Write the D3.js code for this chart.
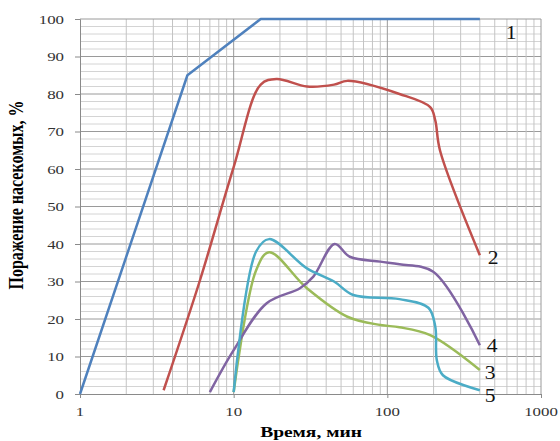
<!DOCTYPE html>
<html lang="ru">
<head>
<meta charset="utf-8">
<title>Поражение насекомых</title>
<script src="https://cdn.jsdelivr.net/npm/d3@7"></script>
<style>
  body { margin: 0; background: #fff; }
  text { font-family: "Liberation Serif", "Times New Roman", serif; }
</style>
</head>
<body>
<script>
// series: time (min) and damage (%)
var t1 = [1, 5, 15, 400]
var v1 = [0, 85, 100, 100]
var t2 = [3.5, 6, 10, 15, 19, 30, 45, 55, 120, 190, 205, 220, 400]
var v2 = [1, 30, 60.5, 82.5, 84, 82, 82.5, 83.5, 80, 76.5, 73, 65, 37]
var t3 = [10, 14, 17, 30, 55, 90, 120, 190, 400]
var v3 = [0.5, 33, 37.8, 28.2, 20.6, 18.4, 17.8, 15.7, 6.4]
var t4 = [7, 10, 16.4, 27, 33, 45.4, 57, 90, 120, 199, 400]
var v4 = [0.5, 11.7, 24.2, 28.2, 31.3, 40, 36.6, 35.3, 34.6, 32.6, 13]
var t5 = [10, 14, 17, 30, 45, 60, 120, 185, 205, 210, 230, 400]
var v5 = [0.5, 38, 41.3, 33.5, 30, 26.4, 25.3, 23, 18, 9, 5, 1]

var seriesNames = ["1", "2", "3", "4", "5"]
var xTicks = [1, 10, 100, 1000]
var yTicks = [0, 10, 20, 30, 40, 50, 60, 70, 80, 90, 100]

var w = 560
var h = 441
var margin = {left: 80, right: 19, top: 19, bottom: 47}
var stretch = 1.35   // text in the picture is wider than tall

var svg = d3.select("body").append("svg")
  .attr("width", w)
  .attr("height", h)

var x = d3.scaleLog().domain([1, 1000]).range([margin.left, w - margin.right])
var y = d3.scaleLinear().domain([0, 100]).range([h - margin.bottom, margin.top])

// grid: horizontal every 2 %, vertical at every log minor tick
var grid = svg.append("g")
d3.range(2, 100, 2).forEach(function (v) {
  grid.append("line")
    .attr("x1", x(1)).attr("x2", x(1000))
    .attr("y1", y(v)).attr("y2", y(v))
    .attr("stroke", v % 10 == 0 ? "#9a9a9a" : "#d4d4d4")
    .attr("stroke-width", 1)
})
x.ticks().forEach(function (t) {
  if (t <= 1) return
  var major = xTicks.indexOf(t) >= 0
  grid.append("line")
    .attr("x1", x(t)).attr("x2", x(t))
    .attr("y1", y(0)).attr("y2", y(100))
    .attr("stroke", major ? "#9a9a9a" : "#c4c4c4")
    .attr("stroke-width", 1)
})
grid.append("line")
  .attr("x1", x(1)).attr("x2", x(1000))
  .attr("y1", y(100)).attr("y2", y(100))
  .attr("stroke", "#9a9a9a")

// axes
svg.append("g")
  .attr("transform", "translate(" + x(1) + ",0)")
  .call(d3.axisLeft(y).tickValues(yTicks).tickSize(5).tickFormat(""))
svg.append("g")
  .attr("transform", "translate(0," + y(0) + ")")
  .call(d3.axisBottom(x).tickValues(xTicks).tickSize(4).tickFormat(""))
svg.selectAll(".domain, .tick line").attr("stroke", "#8a8a8a")

yTicks.forEach(function (v) {
  svg.append("text")
    .attr("transform", "translate(64," + (y(v) + 4.5) + ") scale(" + stretch + ",1)")
    .attr("text-anchor", "end")
    .attr("font-size", 12.5)
    .attr("fill", "#333")
    .text(v)
})
xTicks.forEach(function (t) {
  svg.append("text")
    .attr("transform", "translate(" + x(t) + ",416) scale(" + stretch + ",1)")
    .attr("text-anchor", "middle")
    .attr("font-size", 12.5)
    .attr("fill", "#333")
    .text(t)
})

svg.append("text")
  .attr("transform", "translate(311,437) scale(1.3,1)")
  .attr("text-anchor", "middle")
  .attr("font-size", 15)
  .attr("font-weight", "bold")
  .text("Время, мин")
svg.append("text")
  .attr("transform", "translate(23,195) scale(1.3,1) rotate(-90)")
  .attr("text-anchor", "middle")
  .attr("font-size", 16)
  .attr("font-weight", "bold")
  .text("Поражение насекомых, %")

// lines
var smooth = d3.curveCatmullRom.alpha(0.5)
var series = [
  {t: t1, v: v1, color: "#4f81bd", curve: d3.curveLinear, dx: 26, dy: 20},
  {t: t2, v: v2, color: "#c0504d", curve: smooth, dx: 8, dy: 9},
  {t: t3, v: v3, color: "#9bbb59", curve: smooth, dx: 5, dy: 9},
  {t: t4, v: v4, color: "#8064a2", curve: smooth, dx: 7, dy: 7},
  {t: t5, v: v5, color: "#4bacc6", curve: smooth, dx: 5, dy: 12}
]

series.forEach(function (s, i) {
  var pts = s.t.map(function (t, j) { return [t, s.v[j]] })
  var line = d3.line()
    .x(function (d) { return x(d[0]) })
    .y(function (d) { return y(d[1]) })
    .curve(s.curve)
  svg.append("path")
    .attr("d", line(pts))
    .attr("fill", "none")
    .attr("stroke", s.color)
    .attr("stroke-width", 2.5)
    .attr("stroke-linejoin", "round")
  var last = pts[pts.length - 1]
  svg.append("text")
    .attr("transform", "translate(" + (x(last[0]) + s.dx) + "," + (y(last[1]) + s.dy) + ") scale(1.2,1)")
    .attr("font-size", 18)
    .attr("fill", "#111")
    .text(seriesNames[i])
})
</script>
</body>
</html>
